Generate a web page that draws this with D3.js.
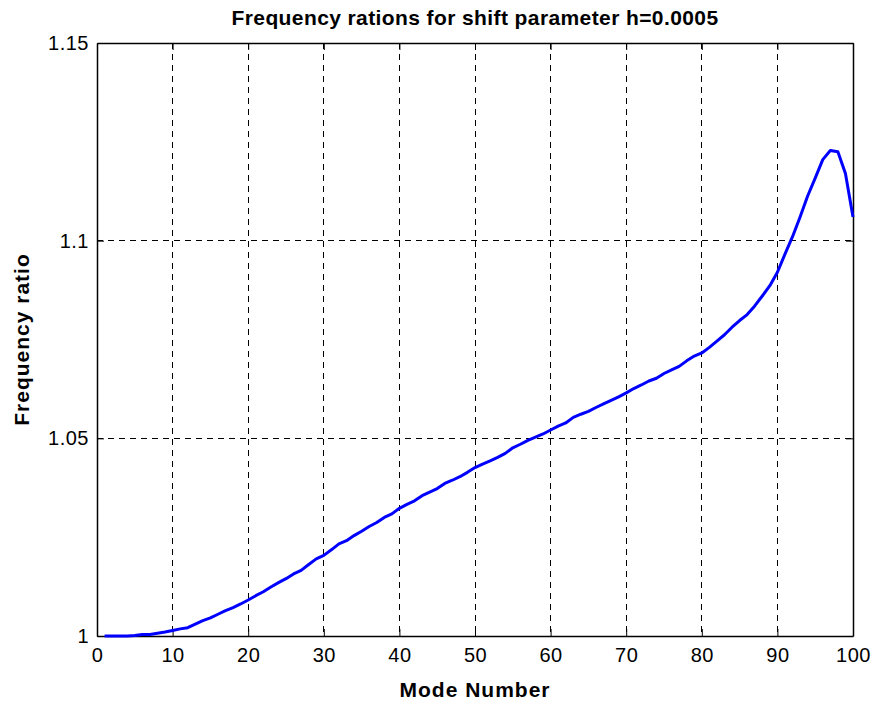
<!DOCTYPE html>
<html>
<head>
<meta charset="utf-8">
<script src="https://cdn.jsdelivr.net/npm/d3@7"></script>
<style>
  html, body { margin: 0; padding: 0; background: #fff; }
  svg { display: block; }
  text { font-family: "Liberation Sans", Arial, Helvetica, sans-serif; fill: #000; }
</style>
</head>
<body>
<svg id="chart" width="878" height="702"></svg>
<script>
// Mode numbers 1..100 and the corresponding frequency ratios
const modes = [
  1, 2, 3, 4, 5, 6, 7, 8, 9, 10,
  11, 12, 13, 14, 15, 16, 17, 18, 19, 20,
  21, 22, 23, 24, 25, 26, 27, 28, 29, 30,
  31, 32, 33, 34, 35, 36, 37, 38, 39, 40,
  41, 42, 43, 44, 45, 46, 47, 48, 49, 50,
  51, 52, 53, 54, 55, 56, 57, 58, 59, 60,
  61, 62, 63, 64, 65, 66, 67, 68, 69, 70,
  71, 72, 73, 74, 75, 76, 77, 78, 79, 80,
  81, 82, 83, 84, 85, 86, 87, 88, 89, 90,
  91, 92, 93, 94, 95, 96, 97, 98, 99, 100
];
const ratios = [
  1.0000, 1.0000, 1.0000, 1.0000, 1.0001, 1.0004, 1.0004, 1.0007, 1.0010, 1.0014,
  1.0018, 1.0021, 1.0030, 1.0039, 1.0046, 1.0055, 1.0064, 1.0072, 1.0081, 1.0091,
  1.0102, 1.0112, 1.0124, 1.0135, 1.0145, 1.0157, 1.0166, 1.0181, 1.0195, 1.0204,
  1.0218, 1.0233, 1.0241, 1.0254, 1.0265, 1.0277, 1.0287, 1.0300, 1.0309, 1.0323,
  1.0333, 1.0342, 1.0355, 1.0364, 1.0373, 1.0386, 1.0394, 1.0403, 1.0414, 1.0426,
  1.0435, 1.0443, 1.0452, 1.0462, 1.0476, 1.0485, 1.0495, 1.0503, 1.0511, 1.0521,
  1.0531, 1.0539, 1.0553, 1.0561, 1.0568, 1.0578, 1.0587, 1.0596, 1.0605, 1.0615,
  1.0626, 1.0635, 1.0645, 1.0652, 1.0664, 1.0673, 1.0682, 1.0696, 1.0708, 1.0716,
  1.0730, 1.0746, 1.0762, 1.0781, 1.0798, 1.0813, 1.0835, 1.0860, 1.0886, 1.0920,
  1.0966, 1.1010, 1.1060, 1.1113, 1.1158, 1.1205, 1.1228, 1.1225, 1.1170, 1.1060
];
const xTicks = [0, 10, 20, 30, 40, 50, 60, 70, 80, 90, 100];
const yTicks = [1, 1.05, 1.1, 1.15];
const yTickLabels = ["1", "1.05", "1.1", "1.15"];

const titleText = "Frequency rations for shift parameter h=0.0005";
const xLabelText = "Mode Number";
const yLabelText = "Frequency ratio";

const svg = d3.select("#chart");
const plot = { left: 97, right: 853, top: 43, bottom: 636 };

const x = d3.scaleLinear().domain([0, 100]).range([plot.left, plot.right]);
const y = d3.scaleLinear().domain([1, 1.15]).range([plot.bottom, plot.top]);

// Dashed grid
const grid = svg.append("g");
grid.selectAll("line.vg")
  .data(xTicks.filter(d => d > 0 && d < 100))
  .join("line")
  .attr("x1", d => x(d)).attr("x2", d => x(d))
  .attr("y1", plot.top).attr("y2", plot.bottom)
  .attr("stroke", "#000").attr("stroke-width", 1)
  .attr("stroke-dasharray", "6,5")
  .attr("shape-rendering", "crispEdges");
grid.selectAll("line.hg")
  .data(yTicks.filter(d => d > 1 && d < 1.15))
  .join("line")
  .attr("x1", plot.left).attr("x2", plot.right)
  .attr("y1", d => y(d)).attr("y2", d => y(d))
  .attr("stroke", "#000").attr("stroke-width", 1)
  .attr("stroke-dasharray", "6,5")
  .attr("shape-rendering", "crispEdges");

// Axes with inward ticks on every side
const tickLen = 7;
const axBottom = svg.append("g").attr("transform", `translate(0,${plot.bottom})`)
  .call(d3.axisBottom(x).tickValues(xTicks).tickSizeInner(-tickLen).tickSizeOuter(0).tickPadding(12));
const axTop = svg.append("g").attr("transform", `translate(0,${plot.top})`)
  .call(d3.axisTop(x).tickValues(xTicks).tickSizeInner(-tickLen).tickSizeOuter(0).tickFormat(""));
const axLeft = svg.append("g").attr("transform", `translate(${plot.left},0)`)
  .call(d3.axisLeft(y).tickValues(yTicks).tickSizeInner(-tickLen).tickSizeOuter(0).tickPadding(8)
    .tickFormat((d, i) => yTickLabels[i]));
const axRight = svg.append("g").attr("transform", `translate(${plot.right},0)`)
  .call(d3.axisRight(y).tickValues(yTicks).tickSizeInner(-tickLen).tickSizeOuter(0).tickFormat(""));

[axBottom, axTop, axLeft, axRight].forEach(g => {
  g.select(".domain").attr("stroke", "#000").attr("stroke-width", 1.5);
  g.selectAll(".tick line").attr("stroke", "#000").attr("stroke-width", 1);
  g.selectAll(".tick text")
    .style("font-family", "'Liberation Sans', Arial, sans-serif")
    .style("font-size", "20px")
    .style("letter-spacing", "0.5px")
    .attr("fill", "#000");
});

// Data line
const line = d3.line()
  .x((d, i) => x(modes[i]))
  .y(d => y(d));
svg.append("path")
  .datum(ratios)
  .attr("d", line)
  .attr("fill", "none")
  .attr("stroke", "#0000ff")
  .attr("stroke-width", 3)
  .attr("stroke-linejoin", "round");

// Title and axis labels
svg.append("text")
  .attr("x", (plot.left + plot.right) / 2).attr("y", 25)
  .attr("text-anchor", "middle")
  .style("font-size", "21px").style("font-weight", "bold")
  .style("letter-spacing", "0.4px")
  .text(titleText);
svg.append("text")
  .attr("x", (plot.left + plot.right) / 2).attr("y", 697)
  .attr("text-anchor", "middle")
  .style("font-size", "21px").style("font-weight", "bold")
  .style("letter-spacing", "1px")
  .text(xLabelText);
svg.append("text")
  .attr("transform", `translate(29,${(plot.top + plot.bottom) / 2}) rotate(-90)`)
  .attr("text-anchor", "middle")
  .style("font-size", "21px").style("font-weight", "bold")
  .style("letter-spacing", "1px")
  .text(yLabelText);
</script>
</body>
</html>
